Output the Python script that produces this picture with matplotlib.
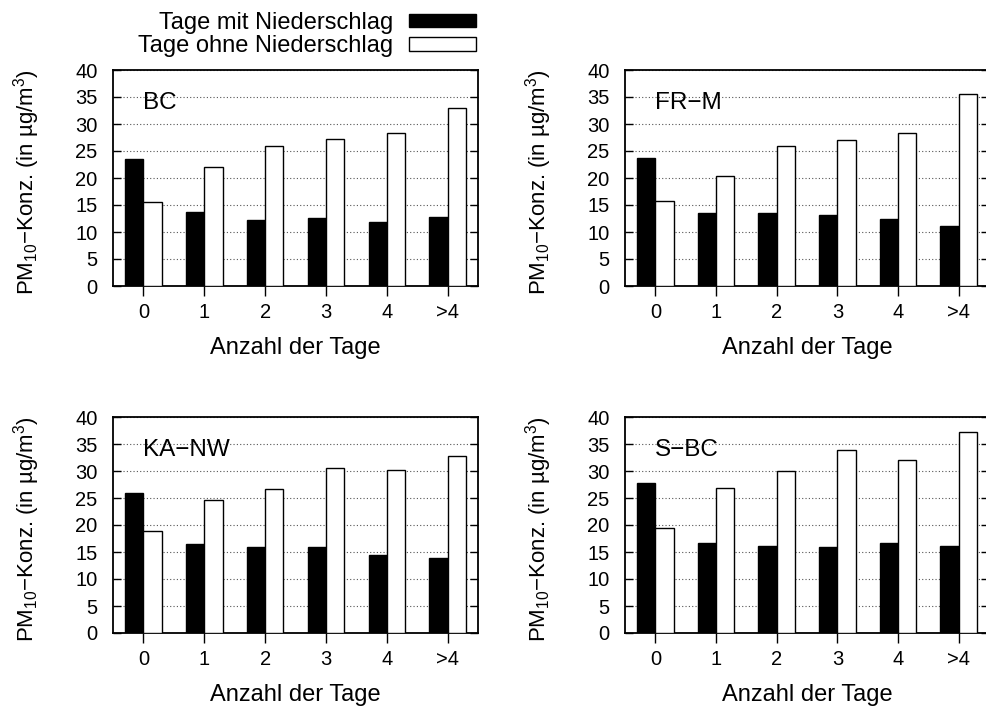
import matplotlib
matplotlib.use("Agg")
import matplotlib.pyplot as plt
import numpy as np

plt.rcParams["font.family"] = ["Liberation Sans", "DejaVu Sans"]
plt.rcParams["mathtext.fontset"] = "custom"
plt.rcParams["mathtext.rm"] = "Liberation Sans"
plt.rcParams["mathtext.it"] = "Liberation Sans"
plt.rcParams["mathtext.default"] = "regular"

# Anzahl der Tage seit dem letzten Niederschlag
categories = ["0", "1", "2", "3", "4", ">4"]
stations = ["BC", "FR\u2212M", "KA\u2212NW", "S\u2212BC"]

# mittlere PM10-Konzentration (µg/m³)
bc_mit = [23.6, 13.7, 12.2, 12.6, 11.9, 12.8]
bc_ohne = [15.5, 22.0, 25.9, 27.3, 28.3, 32.9]
frm_mit = [23.7, 13.5, 13.5, 13.1, 12.4, 11.2]
frm_ohne = [15.7, 20.3, 25.9, 27.1, 28.3, 35.6]
kanw_mit = [26.0, 16.4, 15.9, 15.9, 14.5, 13.8]
kanw_ohne = [18.9, 24.7, 26.6, 30.5, 30.2, 32.7]
sbc_mit = [27.7, 16.6, 16.2, 16.0, 16.7, 16.1]
sbc_ohne = [19.4, 26.8, 30.0, 33.9, 32.0, 37.2]

data_mit = [bc_mit, frm_mit, kanw_mit, sbc_mit]
data_ohne = [bc_ohne, frm_ohne, kanw_ohne, sbc_ohne]

fig = plt.figure(figsize=(9.86, 7.07), dpi=100)

W, H = 986.0, 707.0
# left, top, right, bottom in pixels
boxes = [(113, 70, 478, 286), (625, 70, 989, 286),
         (113, 417, 478, 633), (625, 417, 989, 633)]

fs_tick = 14.5
fs_label = 17
x = np.arange(len(categories))
bw = 0.3

for i, (l, t, r, b) in enumerate(boxes):
    ax = fig.add_axes([l / W, 1 - b / H, (r - l) / W, (b - t) / H])
    ax.bar(x - bw / 2, data_mit[i], bw, color="black", edgecolor="black",
           linewidth=1.0, zorder=3, label="Tage mit Niederschlag")
    ax.bar(x + bw / 2, data_ohne[i], bw, color="white", edgecolor="black",
           linewidth=1.0, zorder=3, label="Tage ohne Niederschlag")
    ax.set_xlim(-0.5, 5.5)
    ax.set_ylim(0, 40)
    ax.set_yticks(range(0, 41, 5))
    ax.set_xticks(x)
    ax.set_xticklabels(categories)
    ax.yaxis.grid(True, linestyle=(0, (1, 2)), color="#555555", linewidth=0.8)
    ax.set_axisbelow(True)
    ax.tick_params(axis="y", direction="in", length=6, width=1.0, right=True,
                   labelsize=fs_tick, pad=11)
    ax.tick_params(axis="x", direction="out", length=7, width=1.0,
                   labelsize=fs_tick, pad=5)
    for sp in ax.spines.values():
        sp.set_linewidth(1.3)
    ax.set_xlabel("Anzahl der Tage", fontsize=fs_label, va="center")
    ax.xaxis.set_label_coords(0.5, -62 / (b - t))
    ax.set_ylabel("PM$_{10}$\u2212Konz. (in \u00b5g/m$^3$)", fontsize=16,
                  va="center", ha="center")
    ax.yaxis.set_label_coords(-86 / (r - l), 0.48)
    ax.text(0, 33.8, stations[i], fontsize=17.5, ha="left", va="center")
    if i == 0:
        fig.legend(*ax.get_legend_handles_labels(), loc="upper right",
                   bbox_to_anchor=(476 / W, 1 - 12 / H), frameon=False,
                   markerfirst=False, fontsize=fs_label, handlelength=2.85,
                   handleheight=0.5, handletextpad=0.64,
                   labelspacing=0.05, borderpad=0, borderaxespad=0)

fig.savefig("out.png", dpi=100)
